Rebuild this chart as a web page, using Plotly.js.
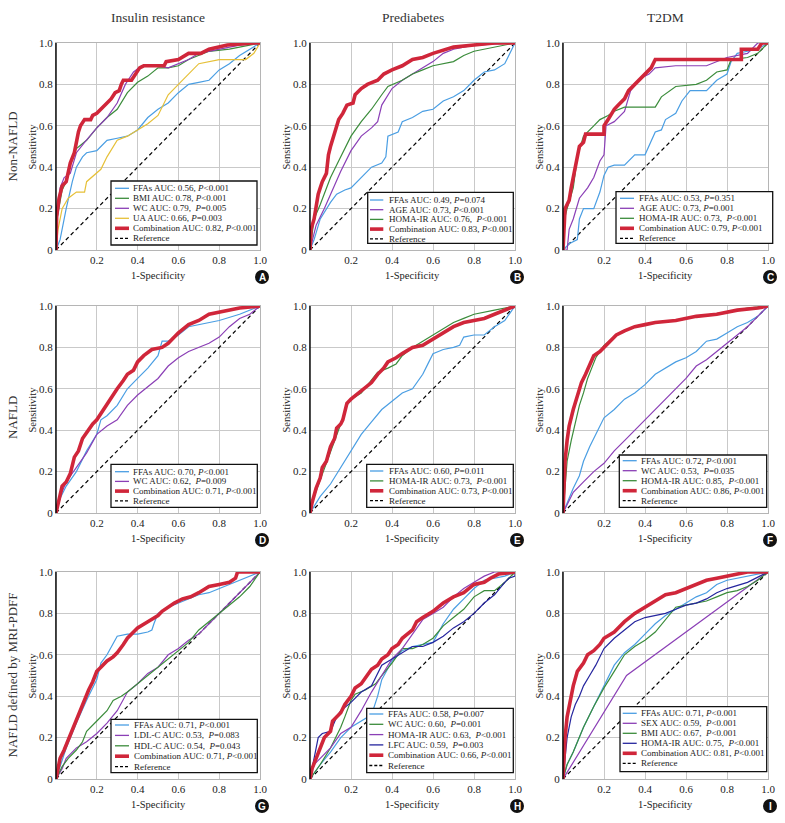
<!DOCTYPE html>
<html><head><meta charset="utf-8">
<script src="https://cdn.plot.ly/plotly-3.0.1.min.js"></script>
<style>html,body{margin:0;padding:0;background:#fff}#chart{width:785px;height:823px}</style>
</head><body><div id="chart"></div>
<script>
// ---------------- DATA ----------------
const colTitles = ['Insulin resistance', 'Prediabetes', 'T2DM'];
const rowTitles = ['Non-NAFLD', 'NAFLD', 'NAFLD defined by MRI-PDFF'];
const panelLetters = ['A','B','C','D','E','F','G','H','I'];
const xTickVals = [0, 0.2, 0.4, 0.6, 0.8, 1.0];
const xTickText = ['', '0.2', '0.4', '0.6', '0.8', '1.0'];
const yTickVals = [0, 0.2, 0.4, 0.6, 0.8, 1.0];
const yTickText = ['0', '0.2', '0.4', '0.6', '0.8', '1.0'];
const xTitle = '1-Specificity';
const yTitle = 'Sensitivity';
const ref_x = [0, 1];
const ref_y = [0, 1];

// Panel A: Non-NAFLD / Insulin resistance
const A_labels = ['FFAs AUC: 0.56, <i>P</i>&lt;0.001','BMI AUC: 0.78, <i>P</i>&lt;0.001','WC AUC: 0.79,  <i>P</i>=0.005','UA AUC: 0.66, <i>P</i>=0.003','Combination AUC: 0.82, <i>P</i>&lt;0.001','Reference'];
const A_FFAs_x = [0,0.02,0.05,0.08,0.1,0.13,0.15,0.2,0.22,0.25,0.3,0.35,0.4,0.45,0.5,0.55,0.6,0.65,0.7,0.75,0.8,0.85,0.9,0.95,1];
const A_FFAs_y = [0,0.05,0.2,0.33,0.4,0.45,0.47,0.48,0.5,0.53,0.54,0.55,0.58,0.64,0.68,0.71,0.76,0.8,0.81,0.82,0.87,0.9,0.94,0.97,1];
const A_BMI_x = [0,0.005,0.03,0.05,0.08,0.1,0.15,0.2,0.25,0.3,0.35,0.4,0.45,0.5,0.55,0.6,0.65,0.75,0.85,0.95,1];
const A_BMI_y = [0,0.15,0.29,0.33,0.45,0.49,0.53,0.59,0.64,0.68,0.76,0.81,0.84,0.88,0.88,0.89,0.92,0.96,0.97,0.99,1];
const A_WC_x = [0,0.005,0.02,0.04,0.07,0.1,0.14,0.2,0.25,0.3,0.34,0.38,0.42,0.5,0.55,0.6,0.65,0.7,0.8,0.9,1];
const A_WC_y = [0,0.15,0.3,0.35,0.37,0.47,0.52,0.59,0.64,0.71,0.8,0.86,0.89,0.89,0.88,0.9,0.92,0.95,0.97,0.99,1];
const A_UA_x = [0,0.01,0.03,0.06,0.1,0.14,0.15,0.2,0.22,0.25,0.28,0.3,0.35,0.4,0.45,0.5,0.55,0.6,0.65,0.7,0.8,0.93,0.97,1];
const A_UA_y = [0,0.1,0.2,0.25,0.28,0.28,0.33,0.37,0.39,0.45,0.5,0.53,0.55,0.58,0.61,0.65,0.75,0.8,0.85,0.9,0.92,0.92,0.95,1];
const A_Comb_x = [0,0.003,0.015,0.03,0.05,0.06,0.07,0.09,0.1,0.11,0.12,0.14,0.17,0.18,0.2,0.22,0.25,0.27,0.29,0.31,0.32,0.33,0.37,0.39,0.41,0.43,0.53,0.54,0.6,0.65,0.71,0.75,0.84,0.97,1];
const A_Comb_y = [0,0.16,0.25,0.31,0.33,0.37,0.42,0.47,0.53,0.57,0.6,0.63,0.63,0.65,0.66,0.68,0.71,0.73,0.76,0.77,0.8,0.82,0.82,0.85,0.88,0.89,0.89,0.91,0.92,0.95,0.95,0.97,0.99,1,1];

// Panel B: Non-NAFLD / Prediabetes
const B_labels = ['FFAs AUC: 0.49, <i>P</i>=0.074','AGE AUC: 0.73, <i>P</i>&lt;0.001','HOMA-IR AUC: 0.76,  <i>P</i>&lt;0.001','Combination AUC: 0.83, <i>P</i>&lt;0.001','Reference'];
const B_FFAs_x = [0,0.02,0.05,0.08,0.1,0.13,0.17,0.2,0.25,0.3,0.35,0.37,0.38,0.43,0.45,0.5,0.55,0.6,0.65,0.7,0.75,0.8,0.85,0.9,0.95,1];
const B_FFAs_y = [0,0.05,0.15,0.2,0.23,0.27,0.29,0.3,0.35,0.4,0.42,0.45,0.55,0.57,0.62,0.64,0.67,0.68,0.72,0.74,0.77,0.82,0.86,0.87,0.9,1];
const B_AGE_x = [0,0.03,0.07,0.1,0.15,0.2,0.25,0.3,0.33,0.35,0.4,0.45,0.5,0.55,0.6,0.65,0.7,0.8,1];
const B_AGE_y = [0,0.12,0.2,0.27,0.38,0.48,0.55,0.59,0.62,0.7,0.78,0.82,0.85,0.88,0.91,0.95,0.97,0.99,1];
const B_HOMA_x = [0,0.02,0.05,0.1,0.15,0.2,0.25,0.3,0.35,0.38,0.45,0.5,0.55,0.6,0.7,0.75,0.8,0.9,1];
const B_HOMA_y = [0,0.15,0.22,0.35,0.45,0.55,0.62,0.68,0.75,0.79,0.82,0.85,0.87,0.89,0.91,0.94,0.96,0.98,1];
const B_Comb_x = [0,0.005,0.02,0.03,0.04,0.05,0.06,0.08,0.09,0.1,0.12,0.14,0.16,0.18,0.21,0.22,0.25,0.28,0.33,0.36,0.4,0.45,0.5,0.55,0.6,0.7,0.8,0.9,1];
const B_Comb_y = [0,0.1,0.15,0.22,0.27,0.3,0.33,0.37,0.46,0.5,0.57,0.63,0.66,0.7,0.71,0.75,0.78,0.8,0.82,0.85,0.87,0.89,0.92,0.93,0.95,0.98,0.99,1,1];

// Panel C: Non-NAFLD / T2DM
const C_labels = ['FFAs AUC: 0.53, <i>P</i>=0.351','AGE AUC: 0.73, <i>P</i>=0.001','HOMA-IR AUC: 0.73,  <i>P</i>&lt;0.001','Combination AUC: 0.79, <i>P</i>&lt;0.001','Reference'];
const C_FFAs_x = [0,0.03,0.07,0.08,0.1,0.15,0.18,0.2,0.22,0.25,0.3,0.35,0.4,0.45,0.48,0.5,0.55,0.58,0.62,0.7,0.75,0.8,0.82,0.85,0.9,0.95,1];
const C_FFAs_y = [0,0.03,0.05,0.15,0.2,0.2,0.28,0.36,0.4,0.41,0.41,0.46,0.46,0.57,0.58,0.63,0.66,0.72,0.77,0.77,0.82,0.85,0.91,0.95,0.96,0.97,1];
const C_AGE_x = [0,0.02,0.03,0.05,0.08,0.12,0.15,0.18,0.2,0.21,0.25,0.3,0.33,0.38,0.42,0.45,0.55,0.7,0.8,0.9,0.95,1];
const C_AGE_y = [0,0,0.1,0.15,0.25,0.3,0.35,0.43,0.46,0.6,0.62,0.67,0.77,0.83,0.85,0.88,0.89,0.89,0.93,0.95,1,1];
const C_HOMA_x = [0,0,0.02,0.05,0.07,0.1,0.15,0.18,0.22,0.25,0.3,0.45,0.48,0.55,0.65,0.7,0.75,0.8,0.82,0.9,0.95,1];
const C_HOMA_y = [0,0.12,0.2,0.3,0.45,0.55,0.6,0.63,0.65,0.67,0.69,0.69,0.74,0.79,0.8,0.82,0.86,0.87,0.92,0.93,0.95,1];
const C_Comb_x = [0,0.005,0.01,0.02,0.03,0.04,0.05,0.06,0.07,0.08,0.1,0.11,0.2,0.2,0.22,0.25,0.27,0.3,0.32,0.35,0.38,0.4,0.43,0.45,0.87,0.87,0.95,0.97,1];
const C_Comb_y = [0,0.1,0.2,0.22,0.24,0.3,0.35,0.4,0.45,0.5,0.52,0.56,0.56,0.6,0.63,0.68,0.7,0.73,0.77,0.8,0.83,0.85,0.88,0.92,0.92,0.97,0.97,1,1];

// Panel D: NAFLD / Insulin resistance
const D_labels = ['FFAs AUC: 0.70, <i>P</i>&lt;0.001','WC AUC: 0.62,  <i>P</i>=0.009','Combination AUC: 0.71, <i>P</i>&lt;0.001','Reference'];
const D_FFAs_x = [0,0.02,0.05,0.1,0.15,0.2,0.22,0.25,0.3,0.33,0.35,0.4,0.45,0.5,0.52,0.55,0.6,0.65,0.7,0.8,0.9,1];
const D_FFAs_y = [0,0.07,0.13,0.2,0.3,0.38,0.45,0.47,0.52,0.57,0.6,0.65,0.7,0.76,0.83,0.83,0.86,0.9,0.91,0.93,0.96,1];
const D_WC_x = [0,0.02,0.05,0.1,0.15,0.2,0.25,0.3,0.35,0.4,0.45,0.5,0.55,0.6,0.65,0.7,0.75,0.8,0.85,0.9,0.95,1];
const D_WC_y = [0,0.08,0.15,0.22,0.29,0.38,0.42,0.45,0.52,0.57,0.61,0.65,0.71,0.75,0.78,0.8,0.82,0.85,0.9,0.94,0.96,1];
const D_Comb_x = [0,0.02,0.03,0.05,0.07,0.09,0.11,0.13,0.15,0.18,0.2,0.22,0.25,0.28,0.3,0.33,0.35,0.38,0.4,0.43,0.47,0.52,0.55,0.58,0.6,0.65,0.7,0.75,0.8,0.85,0.9,1];
const D_Comb_y = [0,0.1,0.13,0.15,0.19,0.27,0.3,0.36,0.39,0.43,0.45,0.48,0.53,0.57,0.6,0.64,0.67,0.69,0.73,0.76,0.79,0.8,0.82,0.85,0.87,0.91,0.93,0.96,0.97,0.98,0.99,1];

// Panel E: NAFLD / Prediabetes
const E_labels = ['FFAs AUC: 0.60, <i>P</i>=0.011','HOMA-IR AUC: 0.73,  <i>P</i>&lt;0.001','Combination AUC: 0.73, <i>P</i>&lt;0.001','Reference'];
const E_FFAs_x = [0,0.02,0.05,0.1,0.15,0.2,0.25,0.3,0.35,0.4,0.45,0.5,0.55,0.58,0.6,0.65,0.7,0.73,0.75,0.8,0.85,0.9,0.95,1];
const E_FFAs_y = [0,0.03,0.08,0.14,0.22,0.3,0.38,0.44,0.5,0.54,0.58,0.6,0.67,0.73,0.77,0.79,0.8,0.81,0.85,0.86,0.86,0.9,0.93,1];
const E_HOMA_x = [0,0.02,0.05,0.08,0.1,0.13,0.15,0.18,0.2,0.25,0.3,0.33,0.38,0.42,0.45,0.5,0.55,0.6,0.65,0.7,0.75,0.8,0.9,1];
const E_HOMA_y = [0,0.08,0.16,0.24,0.3,0.38,0.43,0.52,0.55,0.58,0.64,0.68,0.7,0.72,0.76,0.8,0.83,0.86,0.89,0.92,0.94,0.96,0.98,1];
const E_Comb_x = [0,0.01,0.03,0.05,0.06,0.08,0.1,0.12,0.13,0.15,0.16,0.18,0.2,0.25,0.28,0.3,0.33,0.36,0.38,0.42,0.45,0.5,0.55,0.6,0.65,0.7,0.75,0.8,0.85,0.9,0.95,1];
const E_Comb_y = [0,0.05,0.12,0.17,0.22,0.25,0.32,0.36,0.41,0.43,0.45,0.53,0.55,0.59,0.61,0.63,0.67,0.7,0.73,0.75,0.77,0.8,0.81,0.84,0.87,0.9,0.92,0.93,0.94,0.96,0.98,1];

// Panel F: NAFLD / T2DM
const F_labels = ['FFAs AUC: 0.72, <i>P</i>&lt;0.001','WC AUC: 0.53,  <i>P</i>=0.035','HOMA-IR AUC: 0.85,  <i>P</i>&lt;0.001','Combination AUC: 0.86, <i>P</i>&lt;0.001','Reference'];
const F_FFAs_x = [0,0.02,0.05,0.08,0.1,0.13,0.15,0.18,0.2,0.25,0.3,0.35,0.4,0.45,0.5,0.55,0.6,0.65,0.7,0.75,0.8,0.85,0.9,0.95,1];
const F_FFAs_y = [0,0.05,0.12,0.18,0.25,0.32,0.36,0.42,0.46,0.5,0.55,0.58,0.62,0.67,0.7,0.73,0.75,0.78,0.83,0.84,0.87,0.9,0.92,0.95,1];
const F_WC_x = [0,0.03,0.05,0.1,0.15,0.2,0.25,0.3,0.35,0.4,0.45,0.5,0.55,0.6,0.65,0.7,0.75,0.8,0.85,0.9,0.95,1];
const F_WC_y = [0,0.06,0.1,0.15,0.2,0.24,0.3,0.35,0.4,0.45,0.5,0.55,0.6,0.65,0.71,0.74,0.78,0.82,0.86,0.9,0.95,1];
const F_HOMA_x = [0,0.01,0.02,0.04,0.06,0.08,0.1,0.12,0.14,0.16,0.18,0.2,0.25,0.3,0.35,0.45,0.55,0.65,0.8,0.9,1];
const F_HOMA_y = [0,0.15,0.25,0.35,0.44,0.52,0.58,0.65,0.7,0.75,0.78,0.81,0.85,0.88,0.9,0.92,0.93,0.95,0.97,0.99,1];
const F_Comb_x = [0,0.005,0.01,0.02,0.03,0.05,0.07,0.09,0.11,0.13,0.15,0.18,0.2,0.23,0.26,0.3,0.35,0.4,0.45,0.55,0.65,0.75,0.85,0.95,1];
const F_Comb_y = [0,0.15,0.25,0.35,0.42,0.5,0.57,0.63,0.67,0.72,0.76,0.78,0.8,0.83,0.86,0.88,0.9,0.91,0.92,0.93,0.95,0.96,0.98,0.99,1];

// Panel G: NAFLD defined by MRI-PDFF / Insulin resistance
const G_labels = ['FFAs AUC: 0.71, <i>P</i>&lt;0.001','LDL-C AUC: 0.53,  <i>P</i>=0.083','HDL-C AUC: 0.54,  <i>P</i>=0.043','Combination AUC: 0.71, <i>P</i>&lt;0.001','Reference'];
const G_FFAs_x = [0,0.05,0.1,0.15,0.2,0.22,0.25,0.28,0.3,0.35,0.4,0.45,0.47,0.48,0.5,0.55,0.6,0.65,0.7,0.75,0.8,0.85,0.9,0.95,1];
const G_FFAs_y = [0,0.15,0.27,0.38,0.48,0.56,0.6,0.65,0.69,0.7,0.7,0.71,0.72,0.75,0.8,0.83,0.85,0.87,0.89,0.9,0.92,0.94,0.96,0.98,1];
const G_LDL_x = [0,0.03,0.05,0.1,0.15,0.2,0.25,0.3,0.35,0.4,0.45,0.5,0.55,0.6,0.65,0.7,0.75,0.8,0.85,0.9,0.95,1];
const G_LDL_y = [0,0.05,0.1,0.15,0.18,0.22,0.27,0.33,0.42,0.46,0.51,0.54,0.6,0.63,0.67,0.7,0.75,0.8,0.85,0.9,0.95,1];
const G_HDL_x = [0,0.03,0.06,0.1,0.13,0.15,0.2,0.25,0.28,0.32,0.35,0.4,0.45,0.5,0.55,0.6,0.65,0.7,0.75,0.8,0.85,0.9,0.95,1];
const G_HDL_y = [0,0.06,0.1,0.14,0.18,0.23,0.28,0.33,0.38,0.4,0.42,0.46,0.5,0.54,0.58,0.62,0.66,0.72,0.76,0.8,0.84,0.88,0.93,1];
const G_Comb_x = [0,0.01,0.02,0.04,0.06,0.08,0.1,0.12,0.14,0.16,0.18,0.2,0.22,0.25,0.28,0.3,0.33,0.35,0.38,0.4,0.45,0.5,0.52,0.55,0.58,0.62,0.66,0.7,0.75,0.8,0.85,0.88,0.89,1];
const G_Comb_y = [0,0.05,0.1,0.14,0.19,0.24,0.29,0.33,0.38,0.43,0.47,0.52,0.54,0.57,0.59,0.61,0.65,0.68,0.71,0.73,0.76,0.79,0.81,0.83,0.85,0.87,0.88,0.9,0.93,0.94,0.95,0.97,1,1];

// Panel H: NAFLD defined by MRI-PDFF / Prediabetes
const H_labels = ['FFAs AUC: 0.58, <i>P</i>=0.007','WC AUC: 0.60,  <i>P</i>=0.001','HOMA-IR AUC: 0.63,  <i>P</i>&lt;0.001','LFC AUC: 0.59,  <i>P</i>=0.003','Combination AUC: 0.66, <i>P</i>&lt;0.001','Reference'];
const H_FFAs_x = [0,0.05,0.1,0.15,0.2,0.25,0.3,0.33,0.35,0.4,0.45,0.5,0.55,0.6,0.65,0.7,0.75,0.8,0.85,0.9,0.95,1];
const H_FFAs_y = [0,0.07,0.13,0.2,0.25,0.28,0.31,0.4,0.48,0.57,0.62,0.64,0.65,0.66,0.75,0.82,0.87,0.92,0.96,0.97,0.98,1];
const H_WC_x = [0,0.05,0.1,0.15,0.17,0.2,0.22,0.27,0.32,0.35,0.4,0.45,0.5,0.55,0.6,0.65,0.7,0.75,0.8,0.85,0.9,0.95,1];
const H_WC_y = [0,0.07,0.15,0.25,0.3,0.38,0.41,0.43,0.46,0.5,0.56,0.63,0.63,0.65,0.68,0.74,0.78,0.82,0.88,0.91,0.91,0.95,1];
const H_HOMA_x = [0,0.02,0.05,0.1,0.15,0.2,0.25,0.3,0.35,0.4,0.45,0.5,0.55,0.6,0.65,0.7,0.75,0.8,0.85,0.9,1];
const H_HOMA_y = [0,0.07,0.1,0.15,0.22,0.25,0.33,0.42,0.5,0.58,0.63,0.7,0.77,0.8,0.83,0.88,0.92,0.95,0.98,1,1];
const H_LFC_x = [0,0.02,0.04,0.06,0.1,0.13,0.15,0.2,0.25,0.3,0.35,0.4,0.45,0.5,0.55,0.6,0.65,0.7,0.75,0.8,0.85,0.9,0.95,0.97,1,1];
const H_LFC_y = [0,0.1,0.2,0.22,0.23,0.3,0.33,0.37,0.42,0.45,0.55,0.58,0.61,0.64,0.64,0.66,0.69,0.73,0.76,0.8,0.85,0.89,0.95,0.97,0.98,1];
const H_Comb_x = [0,0.01,0.03,0.05,0.07,0.1,0.11,0.15,0.17,0.2,0.22,0.25,0.28,0.3,0.33,0.35,0.38,0.4,0.43,0.45,0.5,0.52,0.55,0.6,0.65,0.7,0.75,0.8,0.85,0.88,0.92,1];
const H_Comb_y = [0,0.05,0.1,0.15,0.2,0.23,0.28,0.32,0.36,0.4,0.44,0.46,0.5,0.53,0.55,0.58,0.6,0.63,0.65,0.68,0.72,0.76,0.78,0.81,0.85,0.88,0.9,0.94,0.95,0.97,0.99,1];

// Panel I: NAFLD defined by MRI-PDFF / T2DM
const I_labels = ['FFAs AUC: 0.71, <i>P</i>&lt;0.001','SEX AUC: 0.59,  <i>P</i>&lt;0.001','BMI AUC: 0.67,  <i>P</i>&lt;0.001','HOMA-IR AUC: 0.75,  <i>P</i>&lt;0.001','Combination AUC: 0.81, <i>P</i>&lt;0.001','Reference'];
const I_FFAs_x = [0,0.02,0.05,0.1,0.15,0.2,0.25,0.3,0.35,0.4,0.45,0.5,0.55,0.6,0.65,0.7,0.75,0.8,0.9,1];
const I_FFAs_y = [0,0.07,0.13,0.25,0.35,0.45,0.55,0.61,0.65,0.7,0.75,0.79,0.82,0.85,0.88,0.9,0.94,0.96,0.98,1];
const I_SEX_x = [0,0.31,1];
const I_SEX_y = [0,0.5,1];
const I_BMI_x = [0,0.02,0.05,0.1,0.15,0.2,0.25,0.3,0.35,0.4,0.45,0.5,0.55,0.6,0.65,0.7,0.75,0.8,0.85,0.9,0.95,1];
const I_BMI_y = [0,0.07,0.13,0.25,0.35,0.44,0.52,0.6,0.64,0.67,0.71,0.77,0.83,0.84,0.85,0.86,0.88,0.9,0.91,0.93,0.96,1];
const I_HOMA_x = [0,0.01,0.02,0.04,0.06,0.08,0.1,0.13,0.16,0.2,0.25,0.3,0.35,0.4,0.5,0.55,0.6,0.65,0.7,0.75,0.8,0.9,1];
const I_HOMA_y = [0,0.1,0.2,0.3,0.36,0.4,0.45,0.5,0.55,0.63,0.68,0.72,0.76,0.78,0.8,0.82,0.84,0.85,0.87,0.9,0.92,0.95,1];
const I_Comb_x = [0,0.005,0.01,0.02,0.03,0.04,0.05,0.07,0.1,0.12,0.15,0.18,0.2,0.25,0.3,0.35,0.4,0.45,0.5,0.55,0.6,0.65,0.7,0.75,0.8,0.85,0.9,1];
const I_Comb_y = [0,0.1,0.2,0.3,0.35,0.4,0.45,0.52,0.56,0.6,0.62,0.65,0.68,0.71,0.76,0.8,0.83,0.86,0.89,0.9,0.92,0.94,0.96,0.97,0.98,0.99,1,1];

// ---------------- STYLE / LAYOUT ----------------
const W = 785, H = 823;
const SERIF = 'Liberation Serif, Times New Roman, serif';
const COL = {blue:'#4a9ee3', green:'#3b8c3b', purple:'#8b3fb6', yellow:'#e6c038', red:'#d0263a', navy:'#25259e'};
const colPx = [[56,260],[310,515],[563,768]];
const rowPx = [[43,250],[306,513],[572,779]];
const px = v => v / W;
const py = v => 1 - v / H;

// legend boxes in pixels: [left, top, right, bottom], first row y, row step, line x0, line x1, text x
const legendPx = [
  [111,181,257,245, 188.3,10.0, 115,129,131],
  [367.7,192.3,513.3,243.3, 200,9.7, 370,383.3,386.7],
  [616,191.7,772.7,243.3, 198.3,10.0, 620,634,637.3],
  [111,464.3,257.3,507.3, 471.7,9.7, 115,129,131],
  [366.7,464.3,513.3,507.3, 471,9.9, 370,383.3,386.7],
  [619.3,455,766.7,507.3, 460.7,10.0, 622.7,636.7,639.3],
  [111,719.3,257.3,772.7, 725,10.4, 115,129,131.7],
  [366.7,708.3,513.3,772.7, 714,10.3, 369.3,383.3,386],
  [620,706.7,766.7,771.7, 713.3,10.0, 622.7,636.7,639.3]
];

const panels = [
  {labels:A_labels, curves:[[A_FFAs_x,A_FFAs_y,'blue'],[A_BMI_x,A_BMI_y,'green'],[A_WC_x,A_WC_y,'purple'],[A_UA_x,A_UA_y,'yellow'],[A_Comb_x,A_Comb_y,'red']]},
  {labels:B_labels, curves:[[B_FFAs_x,B_FFAs_y,'blue'],[B_AGE_x,B_AGE_y,'purple'],[B_HOMA_x,B_HOMA_y,'green'],[B_Comb_x,B_Comb_y,'red']]},
  {labels:C_labels, curves:[[C_FFAs_x,C_FFAs_y,'blue'],[C_AGE_x,C_AGE_y,'purple'],[C_HOMA_x,C_HOMA_y,'green'],[C_Comb_x,C_Comb_y,'red']]},
  {labels:D_labels, curves:[[D_FFAs_x,D_FFAs_y,'blue'],[D_WC_x,D_WC_y,'purple'],[D_Comb_x,D_Comb_y,'red']]},
  {labels:E_labels, curves:[[E_FFAs_x,E_FFAs_y,'blue'],[E_HOMA_x,E_HOMA_y,'green'],[E_Comb_x,E_Comb_y,'red']]},
  {labels:F_labels, curves:[[F_FFAs_x,F_FFAs_y,'blue'],[F_WC_x,F_WC_y,'purple'],[F_HOMA_x,F_HOMA_y,'green'],[F_Comb_x,F_Comb_y,'red']]},
  {labels:G_labels, curves:[[G_FFAs_x,G_FFAs_y,'blue'],[G_LDL_x,G_LDL_y,'purple'],[G_HDL_x,G_HDL_y,'green'],[G_Comb_x,G_Comb_y,'red']]},
  {labels:H_labels, curves:[[H_FFAs_x,H_FFAs_y,'blue'],[H_WC_x,H_WC_y,'green'],[H_HOMA_x,H_HOMA_y,'purple'],[H_LFC_x,H_LFC_y,'navy'],[H_Comb_x,H_Comb_y,'red']]},
  {labels:I_labels, curves:[[I_FFAs_x,I_FFAs_y,'blue'],[I_SEX_x,I_SEX_y,'purple'],[I_BMI_x,I_BMI_y,'green'],[I_HOMA_x,I_HOMA_y,'navy'],[I_Comb_x,I_Comb_y,'red']]}
];

const traces = [];
const layout = {
  width: W, height: H, margin: {l:0, r:0, t:0, b:0},
  paper_bgcolor: '#fff', plot_bgcolor: '#fff', showlegend: false,
  font: {family: SERIF, color: '#222'},
  shapes: [], annotations: []
};

panels.forEach((p, i) => {
  const r = Math.floor(i / 3), c = i % 3;
  const n = i === 0 ? '' : String(i + 1);
  const xa = 'x' + n, ya = 'y' + n;
  const [L, R] = colPx[c], [T, B] = rowPx[r];
  const common = {
    range: [0, 1], showgrid: true, gridcolor: '#c9c9c9', gridwidth: 1, zeroline: false,
    showline: true, mirror: true, linecolor: '#b5b5b5', linewidth: 1, ticks: '',
    tickfont: {family: SERIF, size: 11, color: '#222'}, fixedrange: true, tickmode: 'array'
  };
  layout['xaxis' + n] = Object.assign({}, common, {domain: [px(L), px(R)], anchor: ya, tickvals: xTickVals, ticktext: xTickText});
  layout['yaxis' + n] = Object.assign({}, common, {domain: [py(B), py(T)], anchor: xa, tickvals: yTickVals, ticktext: yTickText});

  // reference diagonal
  traces.push({x: ref_x, y: ref_y, xaxis: xa, yaxis: ya, mode: 'lines', line: {color: '#000', width: 1.2, dash: '4px,3px'}, hoverinfo: 'skip'});
  // curves: thin first, combination (red) last
  p.curves.forEach(cv => {
    const isRed = cv[2] === 'red';
    traces.push({x: cv[0], y: cv[1], xaxis: xa, yaxis: ya, mode: 'lines',
      line: {color: COL[cv[2]], width: isRed ? 3.6 : 1.2, shape: 'linear'}, hoverinfo: 'skip'});
  });

  // black left spine
  layout.shapes.push({type: 'line', xref: xa + ' domain', yref: ya + ' domain', x0: 0, x1: 0, y0: 0, y1: 1, line: {color: '#000', width: 1.4}});

  // axis titles
  layout.annotations.push({xref: 'paper', yref: 'paper', x: px((L + R) / 2), y: py(B + 25), text: xTitle, showarrow: false,
    font: {family: SERIF, size: 10.5, color: '#222'}, xanchor: 'center', yanchor: 'middle'});
  layout.annotations.push({xref: 'paper', yref: 'paper', x: px(L - 24), y: py((T + B) / 2), text: yTitle, showarrow: false, textangle: -90,
    font: {family: SERIF, size: 10.5, color: '#222'}, xanchor: 'center', yanchor: 'middle'});

  // panel letter
  const cx = R + 2, cy = B + 27, rad = 7;
  layout.shapes.push({type: 'circle', xref: 'paper', yref: 'paper', x0: px(cx - rad), x1: px(cx + rad), y0: py(cy + rad), y1: py(cy - rad),
    fillcolor: '#111', line: {width: 0}});
  layout.annotations.push({xref: 'paper', yref: 'paper', x: px(cx), y: py(cy), text: '<b>' + panelLetters[i] + '</b>', showarrow: false,
    font: {family: 'Liberation Sans, Arial, sans-serif', size: 10, color: '#fff'}, xanchor: 'center', yanchor: 'middle'});

  // legend box
  const lg = legendPx[i];
  layout.shapes.push({type: 'rect', xref: 'paper', yref: 'paper', x0: px(lg[0]), x1: px(lg[2]), y0: py(lg[3]), y1: py(lg[1]),
    fillcolor: '#fff', line: {color: '#111', width: 1.3}});
  const items = p.curves.map(cv => ({color: COL[cv[2]], width: cv[2] === 'red' ? 3.6 : 1.3, dash: 'solid'}));
  items.push({color: '#000', width: 1.3, dash: 'dash'});
  items.forEach((it, k) => {
    const yy = lg[4] + k * lg[5];
    layout.shapes.push({type: 'line', xref: 'paper', yref: 'paper', x0: px(lg[6]), x1: px(lg[7]), y0: py(yy), y1: py(yy),
      line: {color: it.color, width: it.width, dash: it.dash === 'dash' ? '3px,2px' : 'solid'}});
    layout.annotations.push({xref: 'paper', yref: 'paper', x: px(lg[8]), y: py(yy), text: p.labels[k], showarrow: false,
      font: {family: SERIF, size: 9, color: '#222'}, xanchor: 'left', yanchor: 'middle'});
  });
});

// column and row titles
colTitles.forEach((t, c) => {
  layout.annotations.push({xref: 'paper', yref: 'paper', x: px((colPx[c][0] + colPx[c][1]) / 2), y: py(17), text: t, showarrow: false,
    font: {family: SERIF, size: 13.5, color: '#333'}, xanchor: 'center', yanchor: 'middle'});
});
const rowCenters = [146.5, 418, 675.5];
rowTitles.forEach((t, r) => {
  layout.annotations.push({xref: 'paper', yref: 'paper', x: px(12), y: py(rowCenters[r]), text: t, showarrow: false, textangle: -90,
    font: {family: SERIF, size: 13, color: '#333'}, xanchor: 'center', yanchor: 'middle'});
});

Plotly.newPlot('chart', traces, layout, {staticPlot: true, displayModeBar: false});
</script>
</body></html>
